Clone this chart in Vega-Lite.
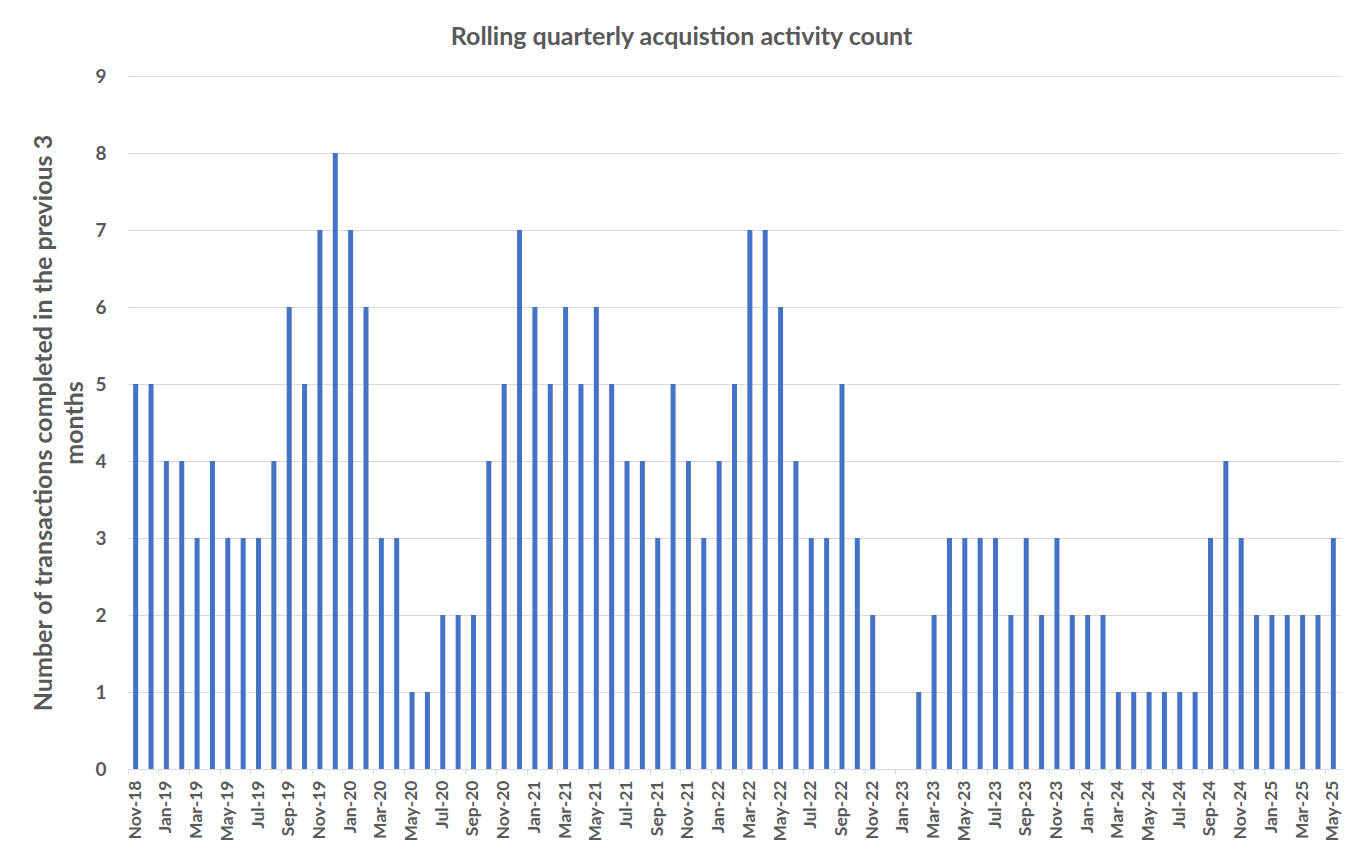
{
  "$schema": "https://vega.github.io/schema/vega-lite/v6.json",
  "width": 1213,
  "height": 693,
  "autosize": "none",
  "padding": {"left": 128, "top": 76, "right": 22, "bottom": 74},
  "background": "white",
  "config": {
    "font": "Lato",
    "view": {"stroke": null}
  },
  "title": {
    "text": "Rolling quarterly acquistion activity count",
    "font": "Lato",
    "fontSize": 25,
    "fontWeight": "bold",
    "color": "#595959",
    "anchor": "middle",
    "frame": "group",
    "dx": -53,
    "offset": 17
  },
  "data": {
    "values": [
      {"month": "Nov-18", "count": 5},
      {"month": "Dec-18", "count": 5},
      {"month": "Jan-19", "count": 4},
      {"month": "Feb-19", "count": 4},
      {"month": "Mar-19", "count": 3},
      {"month": "Apr-19", "count": 4},
      {"month": "May-19", "count": 3},
      {"month": "Jun-19", "count": 3},
      {"month": "Jul-19", "count": 3},
      {"month": "Aug-19", "count": 4},
      {"month": "Sep-19", "count": 6},
      {"month": "Oct-19", "count": 5},
      {"month": "Nov-19", "count": 7},
      {"month": "Dec-19", "count": 8},
      {"month": "Jan-20", "count": 7},
      {"month": "Feb-20", "count": 6},
      {"month": "Mar-20", "count": 3},
      {"month": "Apr-20", "count": 3},
      {"month": "May-20", "count": 1},
      {"month": "Jun-20", "count": 1},
      {"month": "Jul-20", "count": 2},
      {"month": "Aug-20", "count": 2},
      {"month": "Sep-20", "count": 2},
      {"month": "Oct-20", "count": 4},
      {"month": "Nov-20", "count": 5},
      {"month": "Dec-20", "count": 7},
      {"month": "Jan-21", "count": 6},
      {"month": "Feb-21", "count": 5},
      {"month": "Mar-21", "count": 6},
      {"month": "Apr-21", "count": 5},
      {"month": "May-21", "count": 6},
      {"month": "Jun-21", "count": 5},
      {"month": "Jul-21", "count": 4},
      {"month": "Aug-21", "count": 4},
      {"month": "Sep-21", "count": 3},
      {"month": "Oct-21", "count": 5},
      {"month": "Nov-21", "count": 4},
      {"month": "Dec-21", "count": 3},
      {"month": "Jan-22", "count": 4},
      {"month": "Feb-22", "count": 5},
      {"month": "Mar-22", "count": 7},
      {"month": "Apr-22", "count": 7},
      {"month": "May-22", "count": 6},
      {"month": "Jun-22", "count": 4},
      {"month": "Jul-22", "count": 3},
      {"month": "Aug-22", "count": 3},
      {"month": "Sep-22", "count": 5},
      {"month": "Oct-22", "count": 3},
      {"month": "Nov-22", "count": 2},
      {"month": "Dec-22", "count": 0},
      {"month": "Jan-23", "count": 0},
      {"month": "Feb-23", "count": 1},
      {"month": "Mar-23", "count": 2},
      {"month": "Apr-23", "count": 3},
      {"month": "May-23", "count": 3},
      {"month": "Jun-23", "count": 3},
      {"month": "Jul-23", "count": 3},
      {"month": "Aug-23", "count": 2},
      {"month": "Sep-23", "count": 3},
      {"month": "Oct-23", "count": 2},
      {"month": "Nov-23", "count": 3},
      {"month": "Dec-23", "count": 2},
      {"month": "Jan-24", "count": 2},
      {"month": "Feb-24", "count": 2},
      {"month": "Mar-24", "count": 1},
      {"month": "Apr-24", "count": 1},
      {"month": "May-24", "count": 1},
      {"month": "Jun-24", "count": 1},
      {"month": "Jul-24", "count": 1},
      {"month": "Aug-24", "count": 1},
      {"month": "Sep-24", "count": 3},
      {"month": "Oct-24", "count": 4},
      {"month": "Nov-24", "count": 3},
      {"month": "Dec-24", "count": 2},
      {"month": "Jan-25", "count": 2},
      {"month": "Feb-25", "count": 2},
      {"month": "Mar-25", "count": 2},
      {"month": "Apr-25", "count": 2},
      {"month": "May-25", "count": 3}
    ]
  },
  "mark": {"type": "bar", "size": 5, "color": "#4472C4"},
  "encoding": {
    "x": {
      "field": "month",
      "type": "ordinal",
      "sort": null,
      "scale": {"paddingInner": 0, "paddingOuter": 0},
      "axis": {
        "title": null,
        "values": ["Nov-18", "Jan-19", "Mar-19", "May-19", "Jul-19", "Sep-19", "Nov-19", "Jan-20", "Mar-20", "May-20", "Jul-20", "Sep-20", "Nov-20", "Jan-21", "Mar-21", "May-21", "Jul-21", "Sep-21", "Nov-21", "Jan-22", "Mar-22", "May-22", "Jul-22", "Sep-22", "Nov-22", "Jan-23", "Mar-23", "May-23", "Jul-23", "Sep-23", "Nov-23", "Jan-24", "Mar-24", "May-24", "Jul-24", "Sep-24", "Nov-24", "Jan-25", "Mar-25", "May-25"],
        "bandPosition": 0,
        "labelAngle": -90,
        "labelFont": "Lato",
        "labelFontSize": 17.5,
        "labelFontWeight": "bold",
        "labelColor": "#595959",
        "labelPadding": 6,
        "domainColor": "#d9d9d9",
        "tickColor": "#d9d9d9",
        "tickSize": 5,
        "grid": false
      }
    },
    "y": {
      "field": "count",
      "type": "quantitative",
      "scale": {"domain": [0, 9], "nice": false},
      "axis": {
        "title": ["Number of transactions completed in the previous 3", "months"],
        "titleFont": "Lato",
        "titleFontSize": 25,
        "titleFontWeight": "bold",
        "titleColor": "#595959",
        "titlePadding": 7,
        "titleLineHeight": 31,
        "values": [0, 1, 2, 3, 4, 5, 6, 7, 8, 9],
        "format": "d",
        "labelFont": "Lato",
        "labelFontSize": 19,
        "labelFontWeight": "bold",
        "labelColor": "#595959",
        "labelPadding": 22,
        "domain": false,
        "ticks": false,
        "grid": true,
        "gridColor": "#d9d9d9",
        "gridWidth": 1
      }
    }
  }
}
